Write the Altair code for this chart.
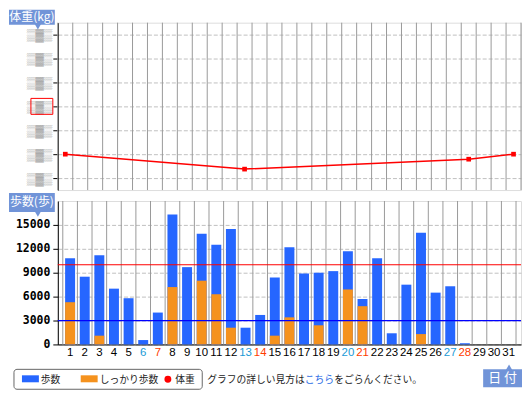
import altair as alt
import pandas as pd

# ---- data ----
days = list(range(1, 32))
steps = [10800, 8500, 11200, 7000, 5800, 550, 4000, 16300, 9700, 13900,
         12500, 14500, 2100, 3700, 8400, 12200, 8900, 9000, 9200, 11700,
         5700, 10800, 1400, 7500, 14000, 6500, 7300, 150, 0, 0, 0]
brisk = [5300, 0, 1100, 0, 0, 0, 0, 7200, 0, 8000,
         6300, 2100, 0, 0, 1100, 3400, 0, 2400, 0, 6900,
         4800, 0, 0, 0, 1300, 0, 0, 0, 0, 0, 0]
weight_days = [1, 13, 28, 31]
weights = [61.0, 60.375, 60.79, 61.0]
weight_ticks = [60, 61, 62, 63, 64, 65, 66]
weight_target = [63]
step_ticks = [0, 3000, 6000, 9000, 12000, 15000]
ref_values = [10000, 3000]
ref_colors = ["#ff0000", "#0000ff"]
saturdays = [6, 13, 20, 27]
sundays = [7, 14, 21, 28]

BLUE = "#2666ff"
ORANGE = "#f5921e"
TAB = "#7194d8"
CJK = "Noto Sans CJK JP"

xs = alt.Scale(domain=[0.5, 31.5], nice=False, zero=False)
W = 465

bars_df = pd.DataFrame({"day": days, "steps": steps, "brisk": brisk})
bounds_df = pd.DataFrame({"b": [d - 0.5 for d in days] + [days[-1] + 0.5]})
wdf = pd.DataFrame({"day": weight_days, "w": weights})
one = pd.DataFrame({"k": [0]})
lab_df = pd.DataFrame({
    "day": days,
    "c": ["#1a9ad6" if d in saturdays else ("#ff3c00" if d in sundays else "#000000") for d in days],
})
ref_df = pd.DataFrame({"v": ref_values, "c": ref_colors})

# ---- top: weight ----
ys_w = alt.Scale(domain=[59.5, 66.5], nice=False, zero=False)
yaxis_w = alt.Axis(values=weight_ticks, labelExpr="'▒▓▒'", labelColor="#a8a8a8",
                   labelFontSize=12, labelPadding=1, tickSize=5, tickColor="black",
                   domainColor="black", gridColor="#c0c0c0", gridDash=[4, 2], title=None,
                   labelOverlap=False)
xnone = alt.X("day:Q", scale=xs, axis=None)
yw = alt.Y("w:Q", scale=ys_w, axis=yaxis_w)

grid_top = alt.Chart(bounds_df).mark_rule(color="#9a9a9a", strokeWidth=1).encode(
    x=alt.X("b:Q", scale=xs, axis=None))
wline = alt.Chart(wdf).mark_line(color="#ff0000", strokeWidth=1.5).encode(x=xnone, y=yw)
wpts = alt.Chart(wdf).mark_square(color="#ff0000", size=22, opacity=1).encode(x=xnone, y=yw)
target_box = alt.Chart(pd.DataFrame({"t": weight_target})).mark_rect(
    fill="transparent", stroke="#ff0000", strokeWidth=1).encode(
    x=alt.value(-27), x2=alt.value(-5), y=alt.value(76), y2=alt.value(92))

t1_box = alt.Chart(one).mark_rect(fill=TAB).encode(
    x=alt.value(-49), x2=alt.value(-3), y=alt.value(-13), y2=alt.value(2))
t1_tri = alt.Chart(one).mark_point(shape="triangle-down", filled=True, color=TAB,
                                   size=45, opacity=1).encode(x=alt.value(-20), y=alt.value(4))
t1_txt = alt.Chart(one).mark_text(text="体重(kg)", font=CJK, fontSize=12, color="white").encode(
    x=alt.value(-26), y=alt.value(-5.5))

top = alt.layer(grid_top, wline, wpts, target_box, t1_box, t1_tri, t1_txt).properties(
    width=W, height=168)

# ---- bottom: steps ----
ys_s = alt.Scale(domain=[0, 18000], nice=False)
yaxis_s = alt.Axis(values=step_ticks, format="d", labelFont="DejaVu Sans Mono",
                   labelFontWeight="bold", labelFontSize=11.5, labelColor="black",
                   labelPadding=3, tickSize=5, tickColor="black", domainColor="black",
                   gridColor="#c0c0c0", gridDash=[4, 2], title=None, labelOverlap=False)
xaxis_s = alt.Axis(labels=False, ticks=False, grid=False, domainColor="black", title=None)
xb = alt.X("day:Q", scale=xs, axis=xaxis_s)

grid_bot = alt.Chart(bounds_df).mark_rule(color="#9a9a9a", strokeWidth=1).encode(
    x=alt.X("b:Q", scale=xs, axis=xaxis_s))
bar_tot = alt.Chart(bars_df).mark_bar(size=10, color=BLUE).encode(
    x=xb, y=alt.Y("steps:Q", scale=ys_s, axis=yaxis_s))
bar_brisk = alt.Chart(bars_df).mark_bar(size=10, color=ORANGE).encode(
    x=xb, y=alt.Y("brisk:Q", scale=ys_s, axis=yaxis_s))
refs = alt.Chart(ref_df).mark_rule(strokeWidth=1.2).encode(
    y=alt.Y("v:Q", scale=ys_s, axis=yaxis_s),
    color=alt.Color("c:N", scale=None))
day_labels = alt.Chart(lab_df).mark_text(font="Liberation Sans", fontSize=11.5,
                                         baseline="middle").encode(
    x=xb,
    y=alt.value(153),
    text="day:Q",
    color=alt.Color("c:N", scale=None))

t2_box = alt.Chart(one).mark_rect(fill=TAB).encode(
    x=alt.value(-49), x2=alt.value(-3), y=alt.value(-8), y2=alt.value(11))
t2_tri = alt.Chart(one).mark_point(shape="triangle-down", filled=True, color=TAB,
                                   size=45, opacity=1).encode(x=alt.value(-20), y=alt.value(13))
t2_txt = alt.Chart(one).mark_text(text="歩数(歩)", font=CJK, fontSize=12, color="white").encode(
    x=alt.value(-26), y=alt.value(1.5))

leg_box = alt.Chart(one).mark_rect(fill="white", stroke="#666", strokeWidth=1,
                                   cornerRadius=3).encode(
    x=alt.value(-44), x2=alt.value(145), y=alt.value(169), y2=alt.value(189))
sw_blue = alt.Chart(one).mark_rect(fill=BLUE).encode(
    x=alt.value(-36), x2=alt.value(-19), y=alt.value(175), y2=alt.value(182))
sw_orange = alt.Chart(one).mark_rect(fill=ORANGE).encode(
    x=alt.value(23), x2=alt.value(40), y=alt.value(175), y2=alt.value(182))
sw_red = alt.Chart(one).mark_point(shape="circle", filled=True, color="#ff0000",
                                   size=48, opacity=1).encode(x=alt.value(110.5), y=alt.value(179))


def ltext(s, x, color="#222"):
    return alt.Chart(one).mark_text(text=s, font=CJK, fontSize=9.8, color=color,
                                    align="left", baseline="middle").encode(
        x=alt.value(x), y=alt.value(179.5))


leg_t1 = ltext("歩数", -17)
leg_t2 = ltext("しっかり歩数", 42)
leg_t3 = ltext("体重", 118)
s1 = ltext("グラフの詳しい見方は", 150)
s2 = ltext("こちら", 248, "#2d6ee6")
s3 = ltext("をごらんください。", 277.4)

d_box = alt.Chart(one).mark_rect(fill=TAB).encode(
    x=alt.value(427), x2=alt.value(466), y=alt.value(169), y2=alt.value(187))
d_tri = alt.Chart(one).mark_point(shape="triangle-up", filled=True, color=TAB,
                                  size=45, opacity=1).encode(x=alt.value(453), y=alt.value(167))
d_txt = alt.Chart(one).mark_text(text="日 付", font=CJK, fontSize=13, color="white").encode(
    x=alt.value(446.5), y=alt.value(178))

bottom = alt.layer(grid_bot, bar_tot, bar_brisk, refs, day_labels,
                   t2_box, t2_tri, t2_txt,
                   leg_box, sw_blue, sw_orange, sw_red, leg_t1, leg_t2, leg_t3,
                   s1, s2, s3, d_box, d_tri, d_txt).properties(width=W, height=144)

chart = alt.vconcat(top, bottom, spacing=11, bounds="flush").resolve_scale(
    x="independent", y="independent", color="independent"
).properties(padding=0).configure_view(stroke="#bbbbbb").configure(background="white")

chart.save("out.html", embed_options={"renderer": "svg", "actions": False})
